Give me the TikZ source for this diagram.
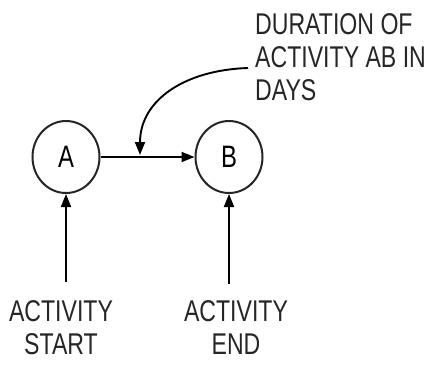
\documentclass[tikz,border=0pt]{standalone}
\usepackage{fontspec}
\setmainfont[FakeStretch=0.77]{Liberation Sans}
\usetikzlibrary{shapes.geometric,arrows.meta}

\begin{document}
\begin{tikzpicture}[x=1pt, y=-1pt,
    event/.style={ellipse, draw=black!85, line width=2pt, minimum width=67pt, minimum height=72pt, inner sep=0pt, font=\fontsize{31}{32}\selectfont},
    caption/.style={inner sep=0pt, text=black!85, font=\fontsize{30}{33}\selectfont},
    link/.style={line width=1.9pt, -{Triangle[length=13pt, width=10pt]}}]
        \useasboundingbox (0,0) rectangle (425,367);
        \node[event] (a) at (66, 157) {A};
        \node[event] (b) at (229, 157) {B};
        \node[caption, align=left, anchor=north west] (dur) at (255, 13) {DURATION OF\\ACTIVITY AB IN\\DAYS};
        \node[caption, align=center, anchor=north] (start) at (61, 300) {ACTIVITY\\START};
        \node[caption, align=center, anchor=north] (end) at (236, 300) {ACTIVITY\\END};
        \coordinate (ab) at (140, 155);
        \coordinate (durtail) at (248, 68);
        \coordinate (starttail) at (66, 282);
        \coordinate (endtail) at (229, 284);
        \draw[link] (a) -- (b);
        \draw[link] (durtail) .. controls (185, 70) and (140, 100) .. (ab);
        \draw[link] (starttail) -- (a);
        \draw[link] (endtail) -- (b);
      \end{tikzpicture}
\end{document}
